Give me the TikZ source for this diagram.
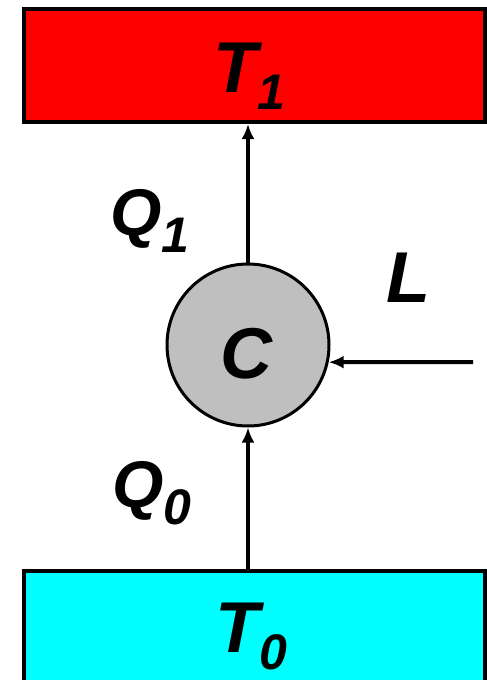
\documentclass[tikz,border=0pt]{standalone}
\usepackage{fontspec}
\setmainfont{Liberation Sans}
\usetikzlibrary{arrows.meta}

\definecolor{hotred}{RGB}{255,0,0}
\definecolor{coldcyan}{RGB}{0,255,255}
\newcommand\lowsub[1]{\raisebox{-17pt}{\fontsize{50}{50}\selectfont #1}}

\begin{document}
\begin{tikzpicture}[x=1pt,y=-1pt,
	bath/.style={draw,line width=4pt,inner sep=0,minimum width=461pt},
	lbl/.style={font=\fontsize{72}{72}\selectfont\bfseries\itshape,inner sep=0,anchor=base},
	qlbl/.style={lbl,font=\fontsize{66}{66}\selectfont\bfseries\itshape},
	flow/.style={line width=4pt,-{Latex[length=15pt,width=13pt]}}]

	\useasboundingbox (0,0) rectangle (487,680);

	% reservoirs
	\node[bath,fill=hotred,minimum height=113pt] (hot) at (254.5,65.5) {};
	\node[bath,fill=coldcyan,minimum height=129pt] (cold) at (254.5,635.5) {};

	% engine
	\node[circle,draw,line width=3pt,fill=black!25,minimum size=162pt,inner sep=0] (machine) at (248,345) {};
	\coordinate (work) at (473,362);

	\draw[flow] (machine.north) -- (machine.north |- hot.south);
	\draw[flow] (cold.north -| machine.south) -- (machine.south);
	\draw[flow] (work) -- (machine.-12);

	\node[lbl] (t1) at (249,92) {T\lowsub{1}};
	\node[lbl] (t0) at (251,652) {T\lowsub{0}};
	\node[qlbl] (q1) at (150,235) {Q\lowsub{1}};
	\node[qlbl] (q0) at (152,507) {Q\lowsub{0}};
	\node[lbl] (l) at (408,302) {L};
	\node[lbl] (c) at (246,378) {C};

\end{tikzpicture}
\end{document}
